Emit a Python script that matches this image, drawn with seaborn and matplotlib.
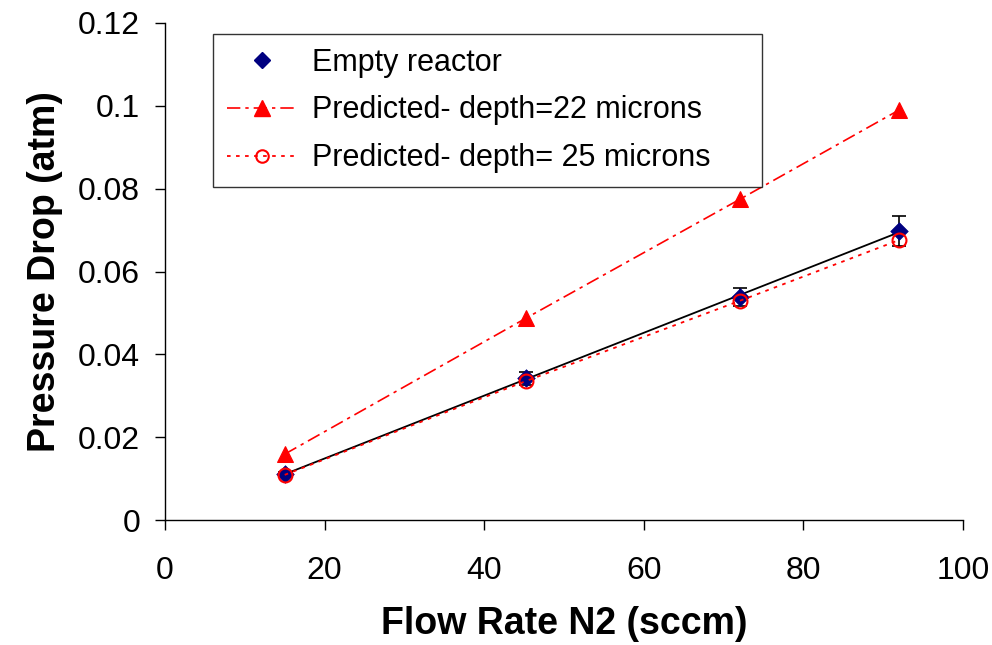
import numpy as np
import pandas as pd
import matplotlib
matplotlib.use("Agg")
import matplotlib.pyplot as plt
import seaborn as sns
from matplotlib.lines import Line2D

flow = [15, 45.3, 72, 92]
empty = [0.0111, 0.0342, 0.0538, 0.0698]
empty_err = [0.0005, 0.0015, 0.0022, 0.0037]
pred22 = [0.0159, 0.0488, 0.0774, 0.0990]
pred25 = [0.0109, 0.0336, 0.0529, 0.0676]

sns.set_style("white", {"text.color": "black", "axes.labelcolor": "black",
                        "xtick.color": "black", "ytick.color": "black",
                        "axes.edgecolor": "black"})
plt.rcParams['font.family'] = ['Liberation Sans', 'DejaVu Sans']

fig = plt.figure(figsize=(9.92, 6.45), dpi=100)
ax = fig.add_axes([165/992, 1-520/645, (963-165)/992, (520-23)/645])

# trend line for empty reactor
sns.regplot(x=np.array(flow), y=np.array(empty), ci=None, scatter=False, truncate=True,
            color='black', line_kws={'lw': 1.3}, ax=ax)
ax.errorbar(flow, empty, yerr=empty_err, fmt='none', ecolor='black', elinewidth=1.2,
            capsize=5, capthick=1.2, zorder=3)
sns.scatterplot(x=flow, y=empty, marker='D', s=80, color='#000080', edgecolor='#000080',
                linewidth=0.5, ax=ax, zorder=4)

sns.lineplot(x=flow, y=pred22, color='red', lw=1.2, linestyle=(0, (8, 3, 2, 3)),
             marker='^', markersize=11, markerfacecolor='red', markeredgecolor='red',
             ax=ax, zorder=5)
sns.lineplot(x=flow, y=pred25, color='red', lw=1.3, linestyle=(0, (2, 3)),
             marker='o', markersize=10, markerfacecolor='none', markeredgecolor='red',
             markeredgewidth=1.5, ax=ax, zorder=5)

ax.set_xlim(0, 100)
ax.set_ylim(0, 0.12)
ax.set_xticks([0, 20, 40, 60, 80, 100])
ax.set_xticklabels(['0', '20', '40', '60', '80', '100'])
ax.set_yticks([0, 0.02, 0.04, 0.06, 0.08, 0.1, 0.12])
ax.set_yticklabels(['0', '0.02', '0.04', '0.06', '0.08', '0.1', '0.12'])
ax.tick_params(axis='both', direction='out', length=7, width=1, color='black',
               labelsize=23, left=True, bottom=True, labelcolor='black')
ax.tick_params(axis='x', pad=19)
ax.tick_params(axis='y', pad=11)
for s in ['top', 'right']:
    ax.spines[s].set_visible(False)
for s in ['left', 'bottom']:
    ax.spines[s].set_color('black')
    ax.spines[s].set_linewidth(1.0)

ax.set_xlabel('Flow Rate N2 (sccm)', fontsize=27, fontweight='bold', labelpad=14,
              color='black')
ax.set_ylabel('Pressure Drop (atm)', fontsize=27, fontweight='bold', labelpad=11,
              color='black')

handles = [
    Line2D([], [], linestyle='none', marker='D', markersize=8, color='#000080'),
    Line2D([], [], color='red', lw=1.2, linestyle=(0, (8, 3, 2, 3)), marker='^',
           markersize=11, markerfacecolor='red', markeredgecolor='red'),
    Line2D([], [], color='red', lw=1.3, linestyle=(0, (2, 3)), marker='o', markersize=9,
           markerfacecolor='none', markeredgecolor='red', markeredgewidth=1.5),
]
labels = ['Empty reactor', 'Predicted- depth=22 microns', 'Predicted- depth= 25 microns']
x0 = (213-165)/798
y1 = (520-34)/497
y0 = (520-182)/497
leg = ax.legend(handles, labels, loc='upper left',
                bbox_to_anchor=(x0, y0, (762-213)/798, y1-y0), mode='expand',
                borderaxespad=0,
                fontsize=22, frameon=True, fancybox=False, edgecolor='black',
                handlelength=2.3, borderpad=0.45, labelspacing=0.58, handletextpad=0.5)
leg.get_frame().set_linewidth(1.0)
for t in leg.get_texts():
    t.set_color('black')

fig.savefig('out.png', dpi=100)
